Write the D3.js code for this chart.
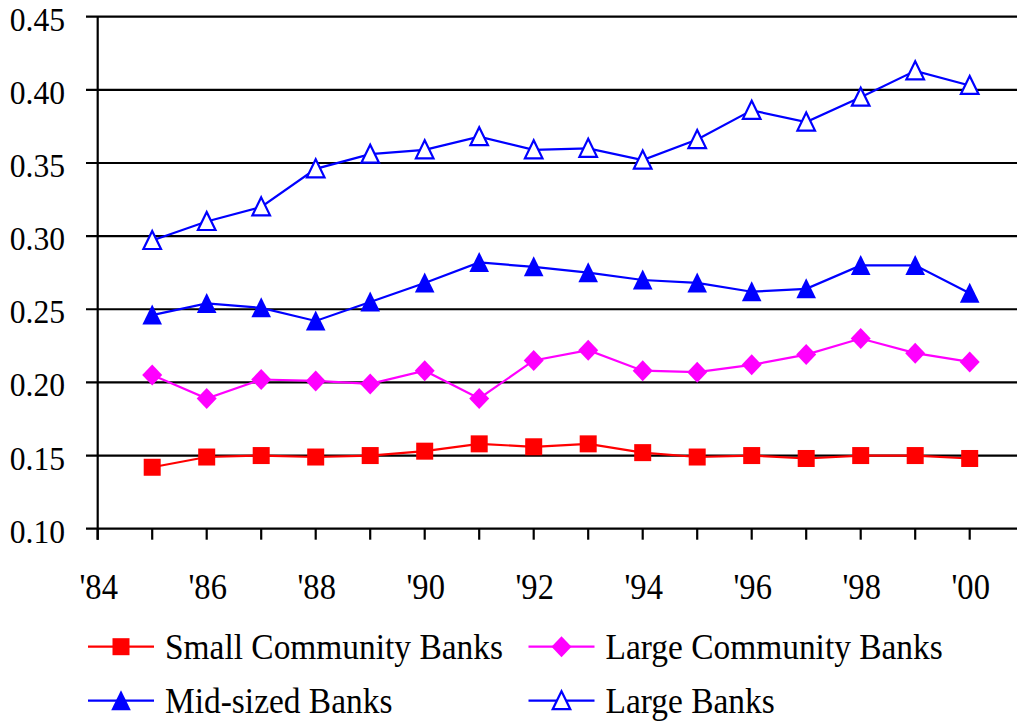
<!DOCTYPE html>
<html>
<head>
<meta charset="utf-8">
<script src="https://cdn.jsdelivr.net/npm/d3@7"></script>
<style>
  html, body { margin: 0; padding: 0; background: #fff; }
  svg { display: block; }
  text { font-family: "Liberation Serif", "Times New Roman", serif; fill: #000; }
</style>
</head>
<body>
<svg id="chart" width="1017" height="723"></svg>
<script>
// Years on the horizontal axis
const years = [1985, 1986, 1987, 1988, 1989, 1990, 1991, 1992,
               1993, 1994, 1995, 1996, 1997, 1998, 1999, 2000];

// Series values, one per year
const smallCommunity = [0.142, 0.149, 0.150, 0.149, 0.150, 0.153, 0.158, 0.156,
                        0.158, 0.152, 0.149, 0.150, 0.148, 0.150, 0.150, 0.148];
const largeCommunity = [0.205, 0.189, 0.202, 0.201, 0.199, 0.208, 0.189, 0.215,
                        0.222, 0.208, 0.207, 0.212, 0.219, 0.230, 0.220, 0.214];
const midSized       = [0.246, 0.254, 0.251, 0.242, 0.255, 0.268, 0.282, 0.279,
                        0.275, 0.270, 0.268, 0.262, 0.264, 0.280, 0.280, 0.261];
const largeBanks     = [0.297, 0.310, 0.320, 0.346, 0.356, 0.359, 0.368, 0.359,
                        0.360, 0.352, 0.366, 0.386, 0.378, 0.395, 0.413, 0.403];

// Series names
const seriesNames = ["Small Community Banks", "Large Community Banks",
                     "Mid-sized Banks", "Large Banks"];

// Axis ticks
const yTicks = [0.10, 0.15, 0.20, 0.25, 0.30, 0.35, 0.40, 0.45];
const xTickYears = d3.range(1984, 2001);
const xLabelYears = [1984, 1986, 1988, 1990, 1992, 1994, 1996, 1998, 2000];

const svg = d3.select("#chart");
const W = 1017;

const x = d3.scaleLinear().domain([1984, 2000]).range([97.7, 969.7]);
const y = d3.scaleLinear().domain([0.10, 0.45]).range([528.7, 16.7]);

const squeeze = 0.93;       // narrow serif face for axis labels
const legendSqueeze = 0.955;

// Horizontal gridlines (also the y-axis ticks)
svg.append("g").selectAll("line").data(yTicks).join("line")
  .attr("x1", 86).attr("x2", W)
  .attr("y1", d => y(d)).attr("y2", d => y(d))
  .attr("stroke", "#000").attr("stroke-width", 2.2);

// Y axis line
svg.append("line")
  .attr("x1", x(1984)).attr("x2", x(1984))
  .attr("y1", y(0.45)).attr("y2", y(0.10) + 11)
  .attr("stroke", "#000").attr("stroke-width", 2.2);

// X axis ticks
svg.append("g").selectAll("line").data(xTickYears).join("line")
  .attr("x1", d => x(d)).attr("x2", d => x(d))
  .attr("y1", y(0.10)).attr("y2", y(0.10) + 11)
  .attr("stroke", "#000").attr("stroke-width", 2.2);

// Y tick labels
svg.append("g").selectAll("text").data(yTicks).join("text")
  .attr("transform", d => `translate(65,${y(d) + 14}) scale(${squeeze},1)`)
  .attr("text-anchor", "end")
  .attr("font-size", 34)
  .text(d => d3.format(".2f")(d));

// X tick labels
svg.append("g").selectAll("text").data(xLabelYears).join("text")
  .attr("transform", d => `translate(${x(d) + 1},599) scale(${squeeze},1)`)
  .attr("text-anchor", "middle")
  .attr("font-size", 35)
  .text(d => "'" + String(d % 100).padStart(2, "0"));

// Marker shapes
function drawMarker(g, kind, color) {
  if (kind === "square") {
    g.append("rect").attr("x", -8.5).attr("y", -8.5)
      .attr("width", 17).attr("height", 17).attr("fill", color);
  } else if (kind === "diamond") {
    g.append("path").attr("d", "M0,-10.5L10,0L0,10.5L-10,0Z").attr("fill", color);
  } else if (kind === "triangle") {
    g.append("path").attr("d", "M0,-10.5L9.8,9.5L-9.8,9.5Z").attr("fill", color);
  } else if (kind === "triangleOpen") {
    g.append("path").attr("d", "M0,-9.5L8.8,8.5L-8.8,8.5Z")
      .attr("fill", "#fff").attr("stroke", color).attr("stroke-width", 2.2);
  }
}

const series = [
  { name: seriesNames[0], values: smallCommunity, color: "#ff0000", marker: "square" },
  { name: seriesNames[1], values: largeCommunity, color: "#ff00ff", marker: "diamond" },
  { name: seriesNames[2], values: midSized,       color: "#0000ff", marker: "triangle" },
  { name: seriesNames[3], values: largeBanks,     color: "#0000ff", marker: "triangleOpen" }
];

const line = d3.line().x(d => x(d[0])).y(d => y(d[1]));

series.forEach(s => {
  const pts = years.map((yr, i) => [yr, s.values[i]]);
  const g = svg.append("g");
  g.append("path").datum(pts)
    .attr("d", line).attr("fill", "none")
    .attr("stroke", s.color).attr("stroke-width", 2.2);
  g.selectAll("g.m").data(pts).join("g").attr("class", "m")
    .attr("transform", d => `translate(${x(d[0])},${y(d[1])})`)
    .each(function () { drawMarker(d3.select(this), s.marker, s.color); });
});

// Legend: two columns, two rows
const legendPos = [
  { lx: 88, ly: 646.7 }, { lx: 528.5, ly: 646.7 },
  { lx: 88, ly: 700.7 }, { lx: 528.5, ly: 700.7 }
];
series.forEach((s, i) => {
  const p = legendPos[i];
  const g = svg.append("g").attr("transform", `translate(${p.lx},${p.ly})`);
  g.append("line").attr("x1", 0).attr("x2", 66).attr("y1", 0).attr("y2", 0)
    .attr("stroke", s.color).attr("stroke-width", 2.2);
  const m = g.append("g").attr("transform", "translate(33,0)");
  drawMarker(m, s.marker, s.color);
  g.append("text")
    .attr("transform", `translate(77,12) scale(${legendSqueeze},1)`)
    .attr("font-size", 35)
    .text(s.name);
});
</script>
</body>
</html>
